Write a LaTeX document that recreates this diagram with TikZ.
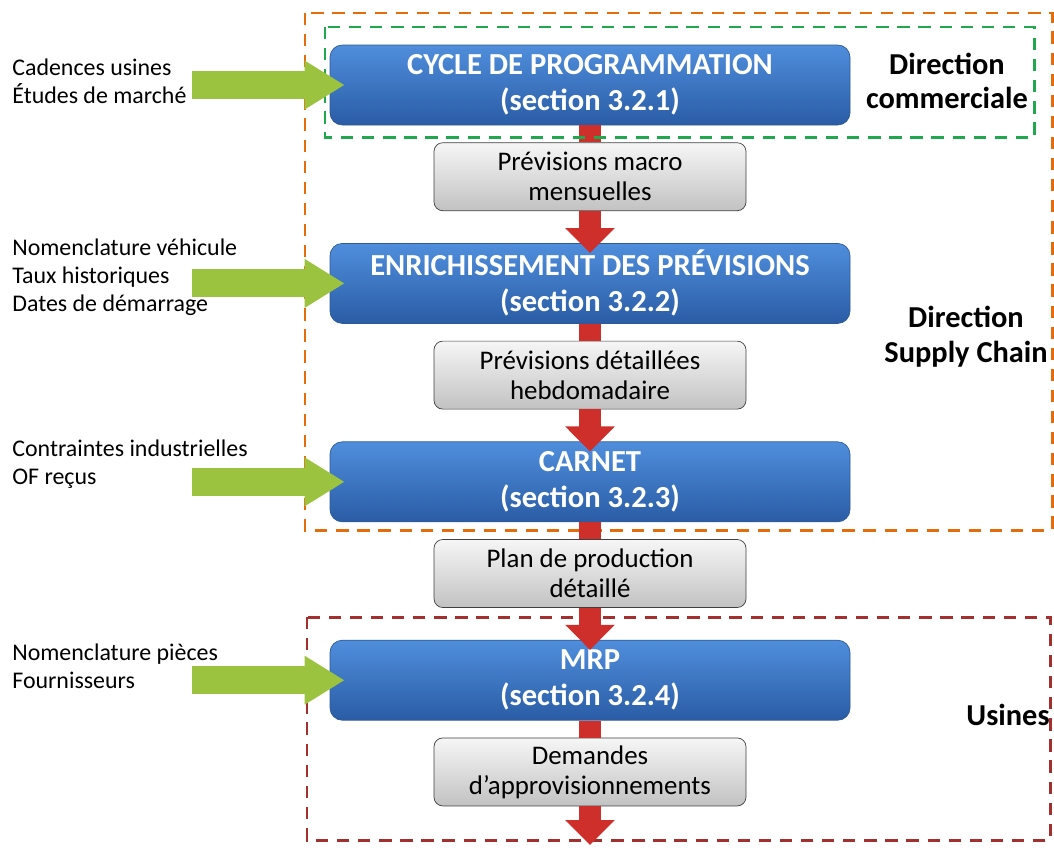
\documentclass[tikz,border=0pt]{standalone}
\usepackage{fontspec}
\setmainfont{Carlito}
\usepackage{tikz}
\usetikzlibrary{positioning}
\usetikzlibrary{arrows.meta}
\definecolor{blueTop}{HTML}{4F8EDC}
\definecolor{blueBot}{HTML}{2A5CA5}
\definecolor{blueEdge}{HTML}{2F5A96}
\definecolor{greyTop}{HTML}{F6F6F6}
\definecolor{greyBot}{HTML}{C2C2C2}
\definecolor{flowRed}{HTML}{CE2F2A}
\definecolor{feedGreen}{HTML}{9CC33F}
\definecolor{orangeFrame}{HTML}{E46C0A}
\definecolor{greenFrame}{HTML}{21A84E}
\definecolor{redFrame}{HTML}{A3302F}
\tikzset{
  stagebox/.style={rounded corners=7pt, draw=blueEdge, top color=blueTop, bottom color=blueBot,
    minimum width=10.4cm, minimum height=1.6cm, align=center, text=white,
    font=\bfseries\fontsize{17.4}{20.5}\selectfont},
  databox/.style={rounded corners=5pt, draw=black!75, top color=greyTop, bottom color=greyBot,
    minimum width=6.24cm, minimum height=1.36cm, align=center,
    font=\fontsize{15.3}{17}\selectfont},
  srclabel/.style={anchor=west, align=left, inner sep=0pt, font=\fontsize{13.6}{16}\selectfont},
  orglabel/.style={align=center, inner sep=0pt, font=\bfseries\fontsize{17.3}{19.8}\selectfont},
  frame/.style={line width=1.7pt, dash pattern=on 7pt off 5pt},
  flowline/.style={flowRed, line width=0.44cm},
  flowhead/.style={-{Triangle[width=0.96cm, length=0.5cm]}},
  feedarrow/.style={feedGreen, line width=0.56cm, -{Triangle[width=0.92cm, length=0.8cm]}}
}

\begin{document}
\begin{tikzpicture}
\useasboundingbox (0,0) rectangle (21.08,-16.94);

% Frames
\draw[frame, orangeFrame] (6.1,-0.26) rectangle (21.04,-10.6);
\draw[frame, redFrame] (6.14,-12.34) rectangle (21.0,-16.8);

% Stages and their outputs
\node[stagebox] (b1) at (11.8,-1.7) {CYCLE DE PROGRAMMATION\\(section 3.2.1)};
\node[databox, below=0.34cm of b1] (g1) {Prévisions macro\\mensuelles};
\node[stagebox, below=0.64cm of g1] (b2) {ENRICHISSEMENT DES PRÉVISIONS\\(section 3.2.2)};
\node[databox, below=0.34cm of b2] (g2) {Prévisions détaillées\\hebdomadaire};
\node[stagebox, below=0.64cm of g2] (b3) {CARNET\\(section 3.2.3)};
\node[databox, below=0.34cm of b3] (g3) {Plan de production\\détaillé};
\node[stagebox, below=0.64cm of g3] (b4) {MRP\\(section 3.2.4)};
\node[databox, below=0.34cm of b4] (g4) {Demandes\\d’approvisionnements};

% Flow
\coordinate (end) at (11.8,-16.9);
\draw[flowline] (b1.south) -- (g1.north);
\draw[flowline, flowhead] (g1.south) -- ([yshift=-0.2cm]b2.north);
\draw[flowline] (b2.south) -- (g2.north);
\draw[flowline, flowhead] (g2.south) -- ([yshift=-0.2cm]b3.north);
\draw[flowline] (b3.south) -- (g3.north);
\draw[flowline, flowhead] (g3.south) -- ([yshift=-0.2cm]b4.north);
\draw[flowline] (b4.south) -- (g4.north);
\draw[flowline, flowhead] (g4.south) -- (end);

\draw[frame, greenFrame] (6.5,-0.54) rectangle (20.68,-2.75);

% Inputs
\node[srclabel] (in1) at (0.24,-1.62) {Cadences usines\\Études de marché};
\node[srclabel] (in2) at (0.24,-5.54) {Nomenclature véhicule\\Taux historiques\\Dates de démarrage};
\node[srclabel] (in3) at (0.24,-9.28) {Contraintes industrielles\\OF reçus};
\node[srclabel] (in4) at (0.24,-13.32) {Nomenclature pièces\\Fournisseurs};

\foreach \b in {b1,b2,b3,b4} {
  \coordinate (f\b) at (3.84,0 |- \b.west);
  \draw[feedarrow] (f\b) -- ([xshift=0.3cm]\b.west);
}

% Organisations
\node[orglabel] (dc) at (18.94,-1.62) {Direction\\commerciale};
\node[orglabel] (dsc) at (19.32,-6.74) {Direction\\Supply Chain};
\node[orglabel] (us) at (20.16,-14.3) {Usines};

\end{tikzpicture}
\end{document}
